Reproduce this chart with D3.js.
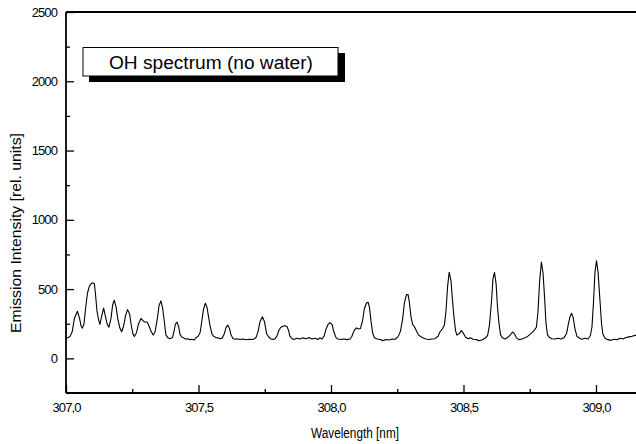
<!DOCTYPE html>
<html>
<head>
<meta charset="utf-8">
<script src="https://cdn.jsdelivr.net/npm/d3@7/dist/d3.min.js"></script>
<style>
  html, body { margin: 0; padding: 0; background: #fff; }
  svg { display: block; }
  text { font-family: "Liberation Sans", Arial, sans-serif; fill: #000; }
</style>
</head>
<body>
<svg id="chart" width="636" height="444"></svg>
<script>
// OH emission spectrum, wavelength in nm
const wavelength = [
  307.000, 307.008, 307.015, 307.023, 307.032, 307.043, 307.051, 307.057, 307.062, 307.068,
  307.075, 307.081, 307.087, 307.093, 307.100, 307.107, 307.111, 307.117, 307.123, 307.128,
  307.134, 307.142, 307.147, 307.155, 307.162, 307.170, 307.176, 307.182, 307.189, 307.196,
  307.204, 307.210, 307.217, 307.225, 307.232, 307.240, 307.247, 307.253, 307.258, 307.266,
  307.274, 307.283, 307.291, 307.298, 307.306, 307.313, 307.321, 307.329, 307.336, 307.345,
  307.351, 307.358, 307.365, 307.372, 307.377, 307.385, 307.392, 307.402, 307.408, 307.413,
  307.419, 307.425, 307.430, 307.436, 307.443, 307.453, 307.460, 307.468, 307.475, 307.483,
  307.491, 307.498, 307.506, 307.511, 307.519, 307.526, 307.532, 307.538, 307.543, 307.551,
  307.558, 307.566, 307.574, 307.581, 307.589, 307.596, 307.604, 307.610, 307.617, 307.623,
  307.630, 307.638, 307.645, 307.657, 307.668, 307.679, 307.691, 307.702, 307.709, 307.717,
  307.725, 307.732, 307.741, 307.749, 307.757, 307.766, 307.774, 307.781, 307.789, 307.796,
  307.804, 307.811, 307.819, 307.826, 307.834, 307.840, 307.845, 307.853, 307.860, 307.872,
  307.883, 307.894, 307.906, 307.917, 307.928, 307.940, 307.951, 307.958, 307.966, 307.974,
  307.981, 307.989, 307.996, 308.004, 308.011, 308.019, 308.026, 308.038, 308.049, 308.060,
  308.072, 308.079, 308.087, 308.096, 308.104, 308.111, 308.119, 308.126, 308.134, 308.140,
  308.145, 308.151, 308.157, 308.164, 308.174, 308.185, 308.196, 308.208, 308.219, 308.230,
  308.242, 308.253, 308.262, 308.270, 308.277, 308.285, 308.291, 308.296, 308.302, 308.308,
  308.315, 308.323, 308.330, 308.338, 308.347, 308.358, 308.370, 308.381, 308.392, 308.404,
  308.411, 308.421, 308.428, 308.434, 308.440, 308.446, 308.453, 308.458, 308.464, 308.470,
  308.475, 308.485, 308.492, 308.500, 308.508, 308.517, 308.526, 308.536, 308.547, 308.558,
  308.570, 308.581, 308.591, 308.598, 308.606, 308.611, 308.617, 308.623, 308.628, 308.634,
  308.640, 308.647, 308.657, 308.666, 308.675, 308.685, 308.692, 308.700, 308.709, 308.721,
  308.732, 308.743, 308.755, 308.766, 308.775, 308.781, 308.787, 308.794, 308.800, 308.806,
  308.811, 308.817, 308.825, 308.834, 308.845, 308.857, 308.868, 308.879, 308.889, 308.896,
  308.902, 308.908, 308.914, 308.921, 308.928, 308.938, 308.947, 308.958, 308.970, 308.979,
  308.985, 308.991, 308.996, 309.002, 309.008, 309.015, 309.021, 309.026, 309.034, 309.045,
  309.057, 309.068, 309.079, 309.091, 309.102, 309.113, 309.125, 309.136, 309.151
];

// Emission intensity, relative units
const intensity = [
  148, 150, 158, 190, 290, 340, 290, 232, 218, 250,
  380, 470, 515, 535, 545, 538, 470, 340, 278, 245,
  300, 362, 320, 250, 225, 290, 385, 420, 370, 280,
  215, 192, 230, 310, 352, 320, 230, 175, 158, 185,
  250, 288, 270, 262, 262, 235, 195, 168, 190, 290,
  380, 415, 360, 250, 170, 148, 142, 150, 200, 248,
  262, 230, 175, 156, 148, 138, 142, 134, 138, 132,
  150, 158, 185, 250, 355, 398, 370, 300, 240, 175,
  158, 150, 148, 142, 146, 170, 222, 240, 215, 168,
  143, 138, 142, 136, 140, 134, 138, 136, 140, 150,
  195, 265, 300, 265, 178, 152, 140, 137, 142, 160,
  205, 225, 232, 236, 230, 200, 160, 142, 136, 145,
  140, 148, 142, 150, 140, 145, 136, 148, 140, 160,
  210, 245, 258, 245, 190, 150, 140, 136, 140, 135,
  140, 160, 200, 220, 212, 215, 270, 360, 400, 405,
  370, 270, 185, 148, 140, 136, 128, 136, 132, 140,
  138, 155, 195, 280, 400, 460, 460, 400, 300, 245,
  228, 195, 170, 158, 148, 140, 136, 140, 142, 160,
  190, 215, 240, 340, 520, 622, 560, 430, 300, 200,
  168, 180, 200, 180, 152, 142, 148, 138, 136, 128,
  132, 145, 165, 240, 420, 570, 620, 540, 380, 250,
  170, 148, 140, 150, 165, 190, 178, 148, 135, 140,
  148, 160, 180, 200, 225, 330, 550, 695, 620, 440,
  260, 170, 150, 142, 140, 145, 140, 148, 180, 250,
  300, 325, 295, 210, 160, 145, 138, 145, 140, 165,
  230, 420, 620, 705, 620, 420, 250, 175, 145, 135,
  130, 138, 135, 145, 140, 150, 155, 160, 168
];

const xMajorTicks = [307.0, 307.5, 308.0, 308.5, 309.0];
const xMinorTicks = [307.25, 307.75, 308.25, 308.75];
const yMajorTicks = [0, 500, 1000, 1500, 2000, 2500];
const yMinorTicks = [250, 750, 1250, 1750, 2250];

const legendLabel = "OH spectrum (no water)";
const xTitle = "Wavelength [nm]";
const yTitle = "Emission Intensity [rel. units]";

const svg = d3.select("#chart");

const x = d3.scaleLinear().domain([307.0, 309.151]).range([66, 636]);
const y = d3.scaleLinear().domain([-250, 2500]).range([393, 12]);

const commaFmt = d => d3.format(".1f")(d).replace(".", ",");

// spectrum trace
const line = d3.line()
  .x((d, i) => x(wavelength[i]))
  .y(d => y(d));

svg.append("path")
  .datum(intensity)
  .attr("d", line)
  .attr("fill", "none")
  .attr("stroke", "#000")
  .attr("stroke-width", 1.1)
  .attr("stroke-linejoin", "round");

// y axis: inward ticks, labels on the left
const yAxis = svg.append("g")
  .attr("transform", "translate(66,0)")
  .call(d3.axisLeft(y).tickValues(yMajorTicks).tickSize(-8).tickPadding(9).tickFormat(d3.format("d")));
yAxis.append("g")
  .call(d3.axisLeft(y).tickValues(yMinorTicks).tickSize(-4).tickFormat(""))
  .select(".domain").remove();

// x axis: inward ticks, labels below
const xAxis = svg.append("g")
  .attr("transform", "translate(0,393)")
  .call(d3.axisBottom(x).tickValues(xMajorTicks).tickSize(-8).tickPadding(10).tickFormat(commaFmt));
xAxis.append("g")
  .call(d3.axisBottom(x).tickValues(xMinorTicks).tickSize(-4).tickFormat(""))
  .select(".domain").remove();

svg.selectAll(".domain").remove();
svg.selectAll(".tick line").attr("stroke", "#000").attr("stroke-width", 1.3);
svg.selectAll(".tick text")
  .attr("font-family", "'Liberation Sans', Arial, sans-serif")
  .attr("font-size", 13)
  .attr("letter-spacing", "-0.9px")
  .attr("fill", "#000");

// frame: left, bottom and top edges
const frame = svg.append("g").attr("stroke", "#000").attr("stroke-width", 1.8);
frame.append("line").attr("x1", 66).attr("x2", 66).attr("y1", y(2500)).attr("y2", y(-250));
frame.append("line").attr("x1", 66).attr("x2", 636).attr("y1", y(-250)).attr("y2", y(-250));
frame.append("line").attr("x1", 66).attr("x2", 636).attr("y1", y(2500)).attr("y2", y(2500));

// axis titles
svg.append("text")
  .attr("x", 355).attr("y", 438)
  .attr("text-anchor", "middle")
  .attr("font-size", 14)
  .attr("textLength", 88)
  .attr("lengthAdjust", "spacingAndGlyphs")
  .text(xTitle);

svg.append("text")
  .attr("transform", "translate(21,233) rotate(-90)")
  .attr("text-anchor", "middle")
  .attr("font-size", 14)
  .attr("textLength", 200)
  .attr("lengthAdjust", "spacingAndGlyphs")
  .text(yTitle);

// legend box with drop shadow
const legend = svg.append("g");
legend.append("rect")
  .attr("x", 89).attr("y", 53).attr("width", 256).attr("height", 29)
  .attr("fill", "#000");
legend.append("rect")
  .attr("x", 83).attr("y", 47.5).attr("width", 255).attr("height", 28.5)
  .attr("fill", "#fff").attr("stroke", "#000").attr("stroke-width", 1);
legend.append("text")
  .attr("x", 109).attr("y", 69)
  .attr("font-size", 18)
  .attr("textLength", 204)
  .attr("lengthAdjust", "spacingAndGlyphs")
  .text(legendLabel);
</script>
</body>
</html>
